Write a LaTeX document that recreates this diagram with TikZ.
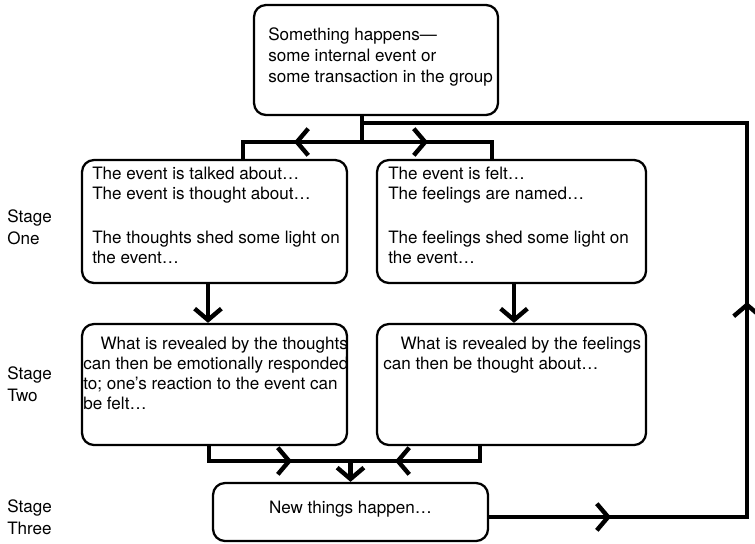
\documentclass[tikz,border=0pt]{standalone}
\usepackage{fontspec}
\setmainfont{TeX Gyre Heros}
\usetikzlibrary{arrows.meta,fit}

\begin{document}
\begin{tikzpicture}[x=0.75pt,y=-0.75pt,>={Straight Barb[length=8.5pt,width=20pt]},
 font=\fontsize{12.8}{15}\selectfont,
 blk/.style={draw,line width=1.7pt,rounded corners=9pt,inner sep=0pt},
 txt/.style={anchor=north west,align=left,inner sep=0pt},
 stg/.style={anchor=north west,align=left,inner sep=0pt,font=\fontsize{12.8}{16.5}\selectfont},
 con/.style={line width=3.3pt,line join=miter}]
\useasboundingbox (0,0) rectangle (755,543);
% boxes
\node[blk,fit={(254,5)(498,115)}] (top) {};
\node[blk,fit={(82,160)(347,283)}] (a1) {};
\node[blk,fit={(377,160)(646,283)}] (b1) {};
\node[blk,fit={(82,324)(347,445)}] (a2) {};
\node[blk,fit={(377,324)(646,445)}] (b2) {};
\node[blk,fit={(213,483)(488,541)}] (new) {\raisebox{-4.5pt}{New things happen\dots}};
% texts
\node[txt,font=\fontsize{12.8}{15.75}\selectfont] (toptxt) at (268,27) {Something happens---\\some internal event or\\some transaction in the group};
\node[txt] (a1txt) at (92,167) {The event is talked about\dots\\The event is thought about\dots\\[18pt]The thoughts shed some light on\\the event\dots};
\node[txt] (b1txt) at (388,167) {The event is felt\dots\\The feelings are named\dots\\[18pt]The feelings shed some light on\\the event\dots};
\node[txt] (a2txt) at (83,337) {\hspace*{13pt}What is revealed by the thoughts\\can then be emotionally responded\\to; one’s reaction to the event can\\be felt\dots};
\node[txt] (b2txt) at (383,337) {\hspace*{13pt}What is revealed by the feelings\\can then be thought about\dots};
% stages
\node[stg] (s1) at (7,209) {Stage\\One};
\node[stg] (s2) at (7,366) {Stage\\Two};
\node[stg] (s3) at (7,499) {Stage\\Three};
% split
\coordinate (tj) at (362,142);
\coordinate (tr) at (362,123);
\draw[con] (top.south -| tj) -- (tj);
\draw[con] (tj) -| (243,0 |- a1.north);
\draw[con] (tj) -| (492,0 |- b1.north);
\draw[con,->] (tj) -- (294,142);
\draw[con,->] (tj) -- (428,142);
% stage one to two
\draw[con,->] (208,0 |- a1.south) -- (208,0 |- a2.north);
\draw[con,->] (514,0 |- b1.south) -- (514,0 |- b2.north);
% merge
\coordinate (ml) at (209,461);
\coordinate (mr) at (480,461);
\coordinate (mj) at (new.north |- ml);
\draw[con] (ml |- a2.south) -- (ml) -- (mr) -- (mr |- b2.south);
\draw[con,->] (ml) -- (292,461);
\draw[con,->] (mr) -- (395,461);
\draw[con,->] (mj) -- (new.north);
% back loop
\coordinate (rb) at (747,517);
\coordinate (rt) at (747,123);
\draw[con] (new.east |- rb) -- (rb) -- (rt) -- (tr);
\draw[con,->] (new.east |- rb) -- (611,517);
\draw[con,->] (rb) -- (747,302);
\end{tikzpicture}
\end{document}
